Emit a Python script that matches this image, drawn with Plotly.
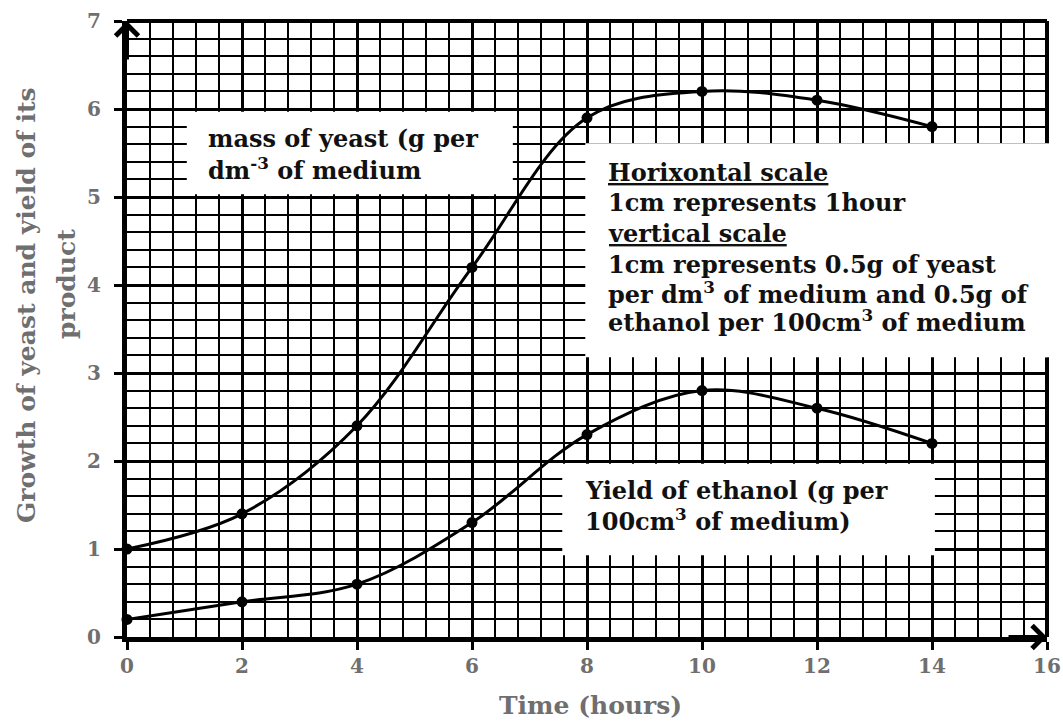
import plotly.graph_objects as go

# ---- data ----
time_h = [0, 2, 4, 6, 8, 10, 12, 14]
yeast_mass = [1.0, 1.4, 2.4, 4.2, 5.9, 6.2, 6.1, 5.8]
ethanol_yield = [0.2, 0.4, 0.6, 1.3, 2.3, 2.8, 2.6, 2.2]
x_tick_vals = [0, 2, 4, 6, 8, 10, 12, 14, 16]
x_tick_text = ["0", "2", "4", "6", "8", "10", "12", "14", "16"]
y_tick_vals = [0, 1, 2, 3, 4, 5, 6, 7]
y_tick_text = ["0", "1", "2", "3", "4", "5", "6", "7"]

SERIF = "DejaVu Serif"
GRAY = "#6f6f6f"
TXT = "#111111"

fig = go.Figure()

for ys in (yeast_mass, ethanol_yield):
    fig.add_trace(go.Scatter(
        x=time_h, y=ys, mode="lines+markers",
        line=dict(color="black", width=3, shape="spline", smoothing=1.0),
        marker=dict(color="black", size=11),
        cliponaxis=False, showlegend=False, hoverinfo="skip"))

box2_y0, box2_y1 = 3.18, 5.61
shapes = [
    # top and right borders (right border interrupted by the scale box)
    dict(type="line", xref="paper", yref="paper", x0=0, x1=1, y0=1, y1=1,
         line=dict(color="black", width=4), layer="between"),
    dict(type="line", xref="paper", yref="paper", x0=1, x1=1, y0=0, y1=box2_y0 / 7,
         line=dict(color="black", width=4), layer="between"),
    dict(type="line", xref="paper", yref="paper", x0=1, x1=1, y0=box2_y1 / 7, y1=1,
         line=dict(color="black", width=4), layer="between"),
    # white label boxes
    dict(type="rect", xref="x", yref="y", x0=1.04, x1=6.71, y0=5.03, y1=5.97,
         fillcolor="white", line=dict(width=0), layer="between"),
    dict(type="rect", xref="x", yref="y", x0=7.97, x1=16, y0=box2_y0, y1=box2_y1,
         fillcolor="white", line=dict(width=0), layer="between"),
    dict(type="rect", xref="x", yref="y", x0=7.57, x1=14.05, y0=0.93, y1=1.97,
         fillcolor="white", line=dict(width=0), layer="between"),
]

ann = []

def txt(x, y, s, size=24):
    ann.append(dict(x=x, y=y, xref="x", yref="y", text="<b>" + s + "</b>",
                    showarrow=False, xanchor="left", yanchor="middle",
                    font=dict(family=SERIF, size=size, color=TXT)))

txt(1.38, 5.67, "mass of yeast (g per")
txt(1.38, 5.32, "dm<sup>-3</sup> of medium")

txt(8.33, 5.28, "<u>Horixontal scale</u>")
txt(8.33, 4.94, "1cm represents 1hour")
txt(8.33, 4.58, "<u>vertical scale</u>")
txt(8.33, 4.23, "1cm represents 0.5g of yeast")
txt(8.33, 3.91, "per dm<sup>3</sup> of medium and 0.5g of")
txt(8.33, 3.59, "ethanol per 100cm<sup>3</sup> of medium")

txt(7.93, 1.67, "Yield of ethanol (g per")
txt(7.93, 1.33, "100cm<sup>3</sup> of medium)")

# axis titles (paper coords relative to the plot area)
TITLE_SIZE = 25
ann.append(dict(x=(26 - 127) / 920, y=(637 - 305) / 616, xref="paper", yref="paper",
                text="<b>Growth of yeast and yield of its</b>", textangle=-90,
                showarrow=False, xanchor="center", yanchor="middle",
                font=dict(family=SERIF, size=TITLE_SIZE, color=GRAY)))
ann.append(dict(x=(66 - 127) / 920, y=(637 - 284) / 616, xref="paper", yref="paper",
                text="<b>product</b>", textangle=-90,
                showarrow=False, xanchor="center", yanchor="middle",
                font=dict(family=SERIF, size=TITLE_SIZE, color=GRAY)))
ann.append(dict(x=(590 - 127) / 920, y=(637 - 706) / 616, xref="paper", yref="paper",
                text="<b>Time (hours)</b>",
                showarrow=False, xanchor="center", yanchor="middle",
                font=dict(family=SERIF, size=TITLE_SIZE, color=GRAY)))

# axis arrows
ann.append(dict(x=0, y=7, xref="x", yref="y", ax=0, ay=40, text="", showarrow=True,
                arrowhead=4, arrowsize=1.1, arrowwidth=4, arrowcolor="black"))
ann.append(dict(x=16, y=0, xref="x", yref="y", ax=-40, ay=0, text="", showarrow=True,
                arrowhead=4, arrowsize=1.1, arrowwidth=4, arrowcolor="black"))

axis_common = dict(
    showgrid=True, gridcolor="black", gridwidth=3.2,
    showline=True, linecolor="black", linewidth=5, mirror=False,
    zeroline=False, ticks="outside", ticklen=8, tickwidth=3, tickcolor="black",
    tickfont=dict(family=SERIF, size=20, color=GRAY),
    fixedrange=True, automargin=False, ticklabeloverflow="allow",
)

fig.update_layout(
    width=1063, height=721,
    margin=dict(l=127, r=16, t=21, b=84, autoexpand=False),
    paper_bgcolor="white", plot_bgcolor="white",
    shapes=shapes, annotations=ann,
    xaxis=dict(range=[0, 16], tickmode="array", tickvals=x_tick_vals,
               ticktext=["<b>" + t + "</b>" for t in x_tick_text],
               minor=dict(tickmode="linear", tick0=0, dtick=0.4, showgrid=True,
                          gridcolor="black", gridwidth=1.7),
               ticklabelstandoff=-1, **axis_common),
    yaxis=dict(range=[0, 7], tickmode="array", tickvals=y_tick_vals,
               ticktext=["<b>" + t + "</b>" for t in y_tick_text],
               minor=dict(tickmode="linear", tick0=0, dtick=0.2, showgrid=True,
                          gridcolor="black", gridwidth=1.7),
               ticklabelstandoff=9, **axis_common),
)

# remove the browser's default page margin so the 1063x721 figure fills the window
fig.write_html(
    "out.html",
    config={"displayModeBar": False},
    post_script="document.body.style.margin='0px';"
                "document.documentElement.style.overflow='hidden';",
)
